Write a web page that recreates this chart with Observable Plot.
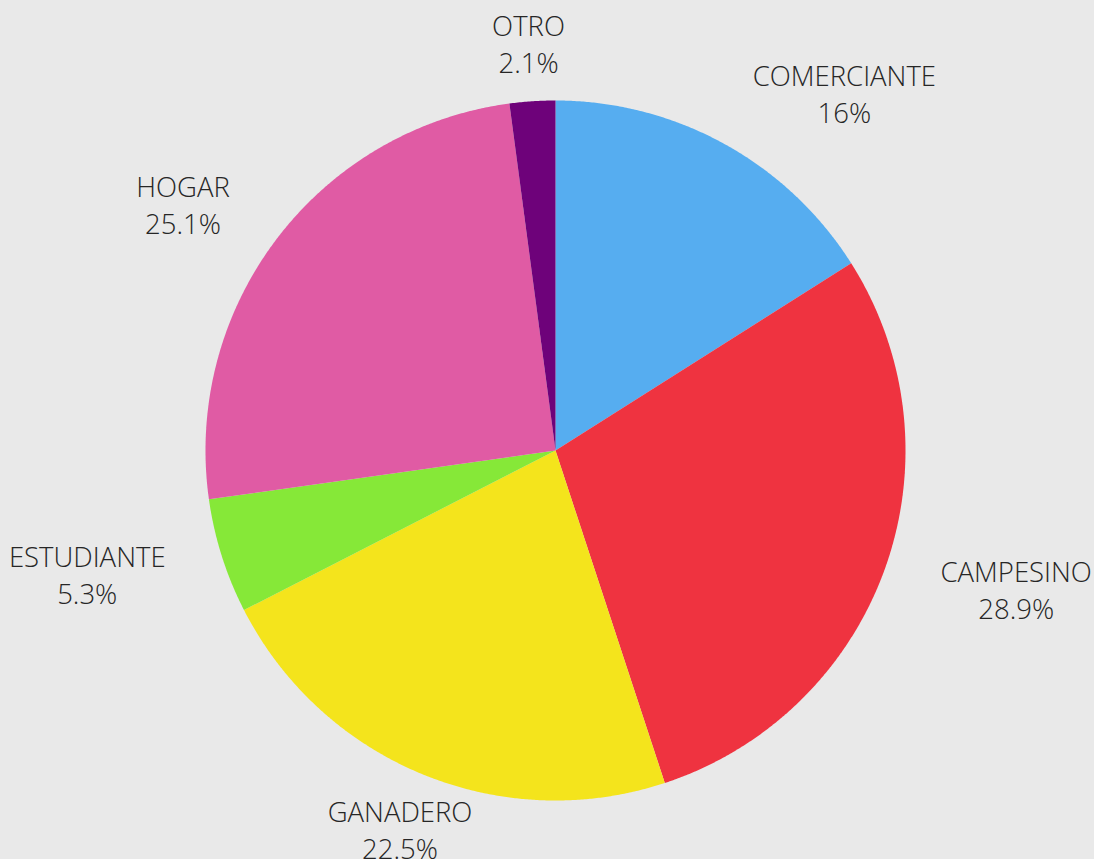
<!DOCTYPE html>
<html>
<head>
<meta charset="utf-8">
<script src="https://cdn.jsdelivr.net/npm/d3@7"></script>
<script src="https://cdn.jsdelivr.net/npm/@observablehq/plot@0.6"></script>
<style>
  html, body { margin: 0; padding: 0; background: #e9e9e9; }
  #chart svg { display: block; }
</style>
</head>
<body>
<div id="chart"></div>
<script>
const categories = ["COMERCIANTE", "CAMPESINO", "GANADERO", "ESTUDIANTE", "HOGAR", "OTRO"];
const values = [16, 28.9, 22.5, 5.3, 25.1, 2.1];
const labels = ["16%", "28.9%", "22.5%", "5.3%", "25.1%", "2.1%"];
const colors = ["#56adf0", "#ef3340", "#f4e41c", "#86e838", "#e05ba4", "#6e027a"];

const W = 1094, H = 859;
const cx = 555, cy = 450, R = 350;
const FONT_SIZE = 27.5;

const pie = d3.pie().sort(null).value(d => d.value)(
  categories.map((c, i) => ({category: c, value: values[i], label: labels[i]}))
);

// slice polygons in unit coordinates (angle measured clockwise from top)
const slicePts = [];
pie.forEach(s => {
  const n = Math.max(2, Math.ceil((s.endAngle - s.startAngle) / 0.005));
  slicePts.push({category: s.data.category, x: 0, y: 0});
  for (let k = 0; k <= n; k++) {
    const a = s.startAngle + (s.endAngle - s.startAngle) * k / n;
    slicePts.push({category: s.data.category, x: Math.sin(a), y: Math.cos(a)});
  }
  slicePts.push({category: s.data.category, x: 0, y: 0});
});

// measure label widths to place each centred block beside its anchor point
const ctx = document.createElement("canvas").getContext("2d");
ctx.font = `300 ${FONT_SIZE}px 'Open Sans'`;
const lr = (R + 59) / R;
const labelRows = pie.map(s => {
  const a = (s.startAngle + s.endAngle) / 2;
  const sx = Math.sin(a), cv = Math.cos(a);
  const w = Math.max(ctx.measureText(s.data.category).width, ctx.measureText(s.data.label).width);
  const shift = sx > 0.4 ? w / 2 : sx < -0.4 ? -w / 2 : 0;
  return {
    text: s.data.category + "\n" + s.data.label,
    x: sx * lr + shift / R,
    y: cv * lr
  };
});

const plot = Plot.plot({
  width: W,
  height: H,
  margin: 0,
  style: {background: "#e9e9e9", fontFamily: "'Open Sans', sans-serif"},
  x: {domain: [-1, 1], range: [cx - R, cx + R], axis: null},
  y: {domain: [-1, 1], range: [cy + R, cy - R], axis: null},
  color: {domain: categories, range: colors},
  marks: [
    Plot.line(slicePts, {x: "x", y: "y", z: "category", fill: "category", stroke: "none", curve: "linear"}),
    Plot.text(labelRows, {
      x: "x", y: "y", text: "text",
      textAnchor: "middle",
      lineAnchor: "middle",
      lineHeight: 1.35,
      fontSize: FONT_SIZE,
      fontWeight: 300,
      fill: "#262626"
    })
  ]
});
document.getElementById("chart").appendChild(plot);
</script>
</body>
</html>
